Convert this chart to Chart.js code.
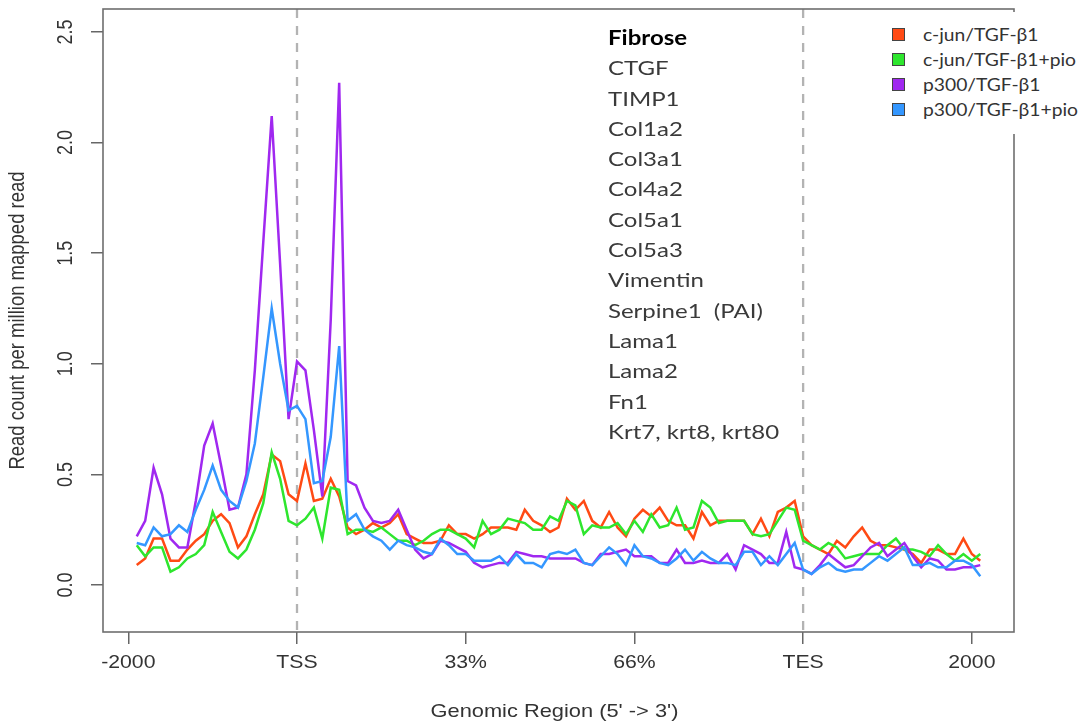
<!DOCTYPE html>
<html>
<head>
<meta charset="utf-8">
<script src="https://cdn.jsdelivr.net/npm/chart.js@4.4.1/dist/chart.umd.min.js"></script>
<style>
  html, body { margin: 0; padding: 0; background: #fff; }
  #wrap { position: relative; width: 1086px; height: 728px; overflow: hidden; }
  #chart { position: absolute; left: 0; top: 0; }
  #genes { position: absolute; left: 608px; top: 22px; font-family: Lato, sans-serif; font-size: 20px; line-height: 30.3px; color: #3a3a3a; transform: scaleX(1.2); transform-origin: left top; white-space: pre; }
  #genes b { color: #000; }
  #legend { position: absolute; left: 878px; top: 12px; width: 208px; height: 122px; background: #fff; }
  .row { position: absolute; left: 0; height: 25px; width: 208px; }
  .sw { position: absolute; left: 14px; top: 6px; width: 11px; height: 11px; border: 1px solid #444; }
  .lbl { position: absolute; left: 45px; top: 0; line-height: 25px; font-family: Lato, sans-serif; font-size: 18px; color: #333; transform: scaleX(1.07); transform-origin: left center; white-space: nowrap; }
</style>
</head>
<body>
<div id="wrap">
  <canvas id="chart" width="1086" height="728"></canvas>
  <div id="genes"></div>
  <div id="legend"></div>
</div>
<script>
// bins 1..101 along the metagene (flank, gene body, flank)
const binPos = Array.from({ length: 101 }, (_, i) => i + 1)

const xTickPos = [0, 20, 40, 60, 80, 100]
const xTickLabels = ['-2000', 'TSS', '33%', '66%', 'TES', '2000']
const markerPos = [20, 80]
const yTicks = [0, 0.5, 1, 1.5, 2, 2.5]

const seriesNames = ['c-jun/TGF-β1', 'c-jun/TGF-β1+pio', 'p300/TGF-β1', 'p300/TGF-β1+pio']
const seriesColors = ['#ff4a14', '#2ee62e', '#a028f0', '#3497ff']

const cjunTgf = [
  0.09, 0.12, 0.21, 0.21, 0.11, 0.11, 0.16, 0.20, 0.23, 0.29,
  0.32, 0.28, 0.17, 0.22, 0.32, 0.41, 0.59, 0.56, 0.41, 0.38,
  0.55, 0.38, 0.39, 0.48, 0.40, 0.26, 0.23, 0.25, 0.28, 0.26,
  0.28, 0.32, 0.23, 0.21, 0.19, 0.19, 0.20, 0.27, 0.23, 0.23,
  0.21, 0.23, 0.26, 0.26, 0.26, 0.25, 0.34, 0.29, 0.27, 0.24,
  0.26, 0.39, 0.34, 0.38, 0.29, 0.26, 0.33, 0.26, 0.22, 0.30,
  0.34, 0.31, 0.35, 0.29, 0.27, 0.27, 0.21, 0.33, 0.27, 0.29,
  0.29, 0.29, 0.29, 0.23, 0.30, 0.22, 0.33, 0.35, 0.38, 0.22,
  0.18, 0.16, 0.14, 0.20, 0.17, 0.22, 0.26, 0.20, 0.18, 0.18,
  0.17, 0.16, 0.14, 0.10, 0.16, 0.16, 0.14, 0.14, 0.21, 0.14, 0.11,
]
const cjunTgfPio = [
  0.18, 0.13, 0.17, 0.17, 0.06, 0.08, 0.12, 0.14, 0.18, 0.33,
  0.24, 0.15, 0.12, 0.16, 0.25, 0.37, 0.60, 0.48, 0.29, 0.27,
  0.30, 0.35, 0.21, 0.44, 0.43, 0.23, 0.25, 0.25, 0.24, 0.26,
  0.23, 0.20, 0.20, 0.18, 0.20, 0.23, 0.25, 0.25, 0.23, 0.21,
  0.17, 0.29, 0.23, 0.25, 0.30, 0.29, 0.28, 0.25, 0.25, 0.31,
  0.29, 0.38, 0.36, 0.23, 0.27, 0.26, 0.26, 0.28, 0.23, 0.29,
  0.24, 0.32, 0.26, 0.27, 0.35, 0.25, 0.26, 0.38, 0.35, 0.28,
  0.29, 0.29, 0.29, 0.23, 0.22, 0.23, 0.29, 0.35, 0.34, 0.20,
  0.18, 0.16, 0.19, 0.17, 0.12, 0.13, 0.14, 0.14, 0.14, 0.18,
  0.21, 0.16, 0.16, 0.15, 0.13, 0.18, 0.14, 0.11, 0.14, 0.11, 0.14,
]
const p300Tgf = [
  0.22, 0.29, 0.53, 0.41, 0.21, 0.17, 0.17, 0.38, 0.63, 0.73,
  0.54, 0.34, 0.35, 0.50, 0.97, 1.55, 2.12, 1.45, 0.75, 1.01,
  0.97, 0.70, 0.40, 1.20, 2.27, 0.47, 0.45, 0.35, 0.29, 0.28,
  0.29, 0.34, 0.25, 0.16, 0.12, 0.14, 0.20, 0.19, 0.17, 0.15,
  0.10, 0.08, 0.09, 0.10, 0.10, 0.15, 0.14, 0.13, 0.13, 0.12,
  0.12, 0.12, 0.12, 0.10, 0.09, 0.14, 0.14, 0.15, 0.16, 0.13,
  0.13, 0.13, 0.10, 0.10, 0.16, 0.10, 0.10, 0.11, 0.10, 0.10,
  0.14, 0.07, 0.18, 0.16, 0.14, 0.10, 0.10, 0.24, 0.08, 0.07,
  0.05, 0.09, 0.14, 0.11, 0.08, 0.09, 0.13, 0.17, 0.19, 0.13,
  0.16, 0.19, 0.13, 0.08, 0.12, 0.11, 0.07, 0.07, 0.08, 0.08, 0.09,
]
const p300TgfPio = [
  0.19, 0.18, 0.26, 0.22, 0.23, 0.27, 0.24, 0.34, 0.43, 0.54,
  0.43, 0.38, 0.35, 0.47, 0.64, 0.94, 1.25, 1.00, 0.79, 0.81,
  0.75, 0.46, 0.47, 0.67, 1.08, 0.29, 0.32, 0.25, 0.22, 0.20,
  0.16, 0.20, 0.18, 0.17, 0.15, 0.14, 0.21, 0.18, 0.14, 0.14,
  0.11, 0.11, 0.11, 0.13, 0.09, 0.14, 0.10, 0.10, 0.08, 0.14,
  0.15, 0.14, 0.16, 0.10, 0.09, 0.13, 0.17, 0.14, 0.09, 0.18,
  0.13, 0.12, 0.10, 0.09, 0.12, 0.16, 0.11, 0.15, 0.12, 0.10,
  0.10, 0.09, 0.15, 0.15, 0.09, 0.13, 0.09, 0.14, 0.19, 0.07,
  0.05, 0.08, 0.10, 0.07, 0.06, 0.07, 0.07, 0.10, 0.13, 0.11,
  0.14, 0.17, 0.09, 0.09, 0.10, 0.08, 0.08, 0.11, 0.11, 0.09, 0.04,
]
const seriesValues = [cjunTgf, cjunTgfPio, p300Tgf, p300TgfPio]

const geneList = ['CTGF', 'TIMP1', 'Col1a2', 'Col3a1', 'Col4a2', 'Col5a1', 'Col5a3', 'Vimentin',
  'Serpine1  (PAI)', 'Lama1', 'Lama2', 'Fn1', 'Krt7, krt8, krt80']

const STRETCH = 1.18 // the source picture is a bit wider than tall
const axisFont = '18px "Liberation Sans", Arial, sans-serif'

function drawText(ctx, text, x, y, rotate) {
  ctx.save()
  ctx.translate(x, y)
  ctx.scale(STRETCH, 1)
  if (rotate) ctx.rotate(-Math.PI / 2)
  ctx.fillText(text, 0, 0)
  ctx.restore()
}

// R-like frame, dashed TSS/TES markers and axis text
const rAxes = {
  id: 'rAxes',
  beforeDatasetsDraw(chart) {
    const { ctx, chartArea: a, scales: { x } } = chart
    ctx.save()
    ctx.strokeStyle = '#b3b3b3'
    ctx.lineWidth = 2.3
    ctx.setLineDash([9, 8])
    markerPos.forEach((p) => {
      const px = x.getPixelForValue(p)
      ctx.beginPath()
      ctx.moveTo(px, a.top)
      ctx.lineTo(px, a.bottom)
      ctx.stroke()
    })
    ctx.restore()
  },
  afterDraw(chart) {
    const { ctx, chartArea: a, scales: { x, y } } = chart
    ctx.save()
    ctx.strokeStyle = '#6e6e6e'
    ctx.lineWidth = 1.6
    ctx.strokeRect(a.left, a.top, a.right - a.left, a.bottom - a.top)

    ctx.fillStyle = '#333'
    ctx.font = axisFont
    ctx.textAlign = 'center'
    ctx.textBaseline = 'middle'
    xTickPos.forEach((p, i) => drawText(ctx, xTickLabels[i], x.getPixelForValue(p), 663, false))
    yTicks.forEach((v) => drawText(ctx, v.toFixed(1), 66, y.getPixelForValue(v), true))
    ctx.font = '18.5px "Liberation Sans", Arial, sans-serif'
    drawText(ctx, "Genomic Region (5' -> 3')", (a.left + a.right) / 2 - 4, 712, false)
    drawText(ctx, 'Read count per million mapped read', 18, (a.top + a.bottom) / 2, true)
    ctx.restore()
  },
}

new Chart(document.getElementById('chart'), {
  type: 'line',
  data: {
    datasets: seriesValues.map((vals, k) => ({
      label: seriesNames[k],
      data: vals.map((v, i) => ({ x: binPos[i], y: v })),
      borderColor: seriesColors[k],
      borderWidth: 2.5,
      pointRadius: 0,
      tension: 0,
      order: seriesValues.length - k,
    })),
  },
  options: {
    responsive: false,
    animation: false,
    devicePixelRatio: 1,
    layout: { padding: { left: 0, right: 72, top: 9, bottom: 0 } },
    plugins: { legend: { display: false }, tooltip: { enabled: false } },
    scales: {
      x: {
        type: 'linear',
        min: -3,
        max: 105,
        afterBuildTicks: (s) => { s.ticks = xTickPos.map((v) => ({ value: v })) },
        afterFit: (s) => { s.height = 96 },
        ticks: { display: false },
        grid: { drawOnChartArea: false, tickLength: 12, color: '#666', lineWidth: 1.5 },
        border: { display: false },
      },
      y: {
        min: -0.2125,
        max: 2.604,
        afterBuildTicks: (s) => { s.ticks = yTicks.map((v) => ({ value: v })) },
        afterFit: (s) => { s.width = 103 },
        ticks: { display: false },
        grid: { drawOnChartArea: false, tickLength: 12, color: '#666', lineWidth: 1.5 },
        border: { display: false },
      },
    },
  },
  plugins: [rAxes],
})

document.getElementById('genes').innerHTML = '<b>Fibrose</b>\n' + geneList.join('\n')

const legendEl = document.getElementById('legend')
seriesNames.forEach((name, k) => {
  const row = document.createElement('div')
  row.className = 'row'
  row.style.top = (10 + k * 25) + 'px'
  row.innerHTML = `<span class="sw" style="background:${seriesColors[k]}"></span><span class="lbl">${name}</span>`
  legendEl.appendChild(row)
})
</script>
</body>
</html>
